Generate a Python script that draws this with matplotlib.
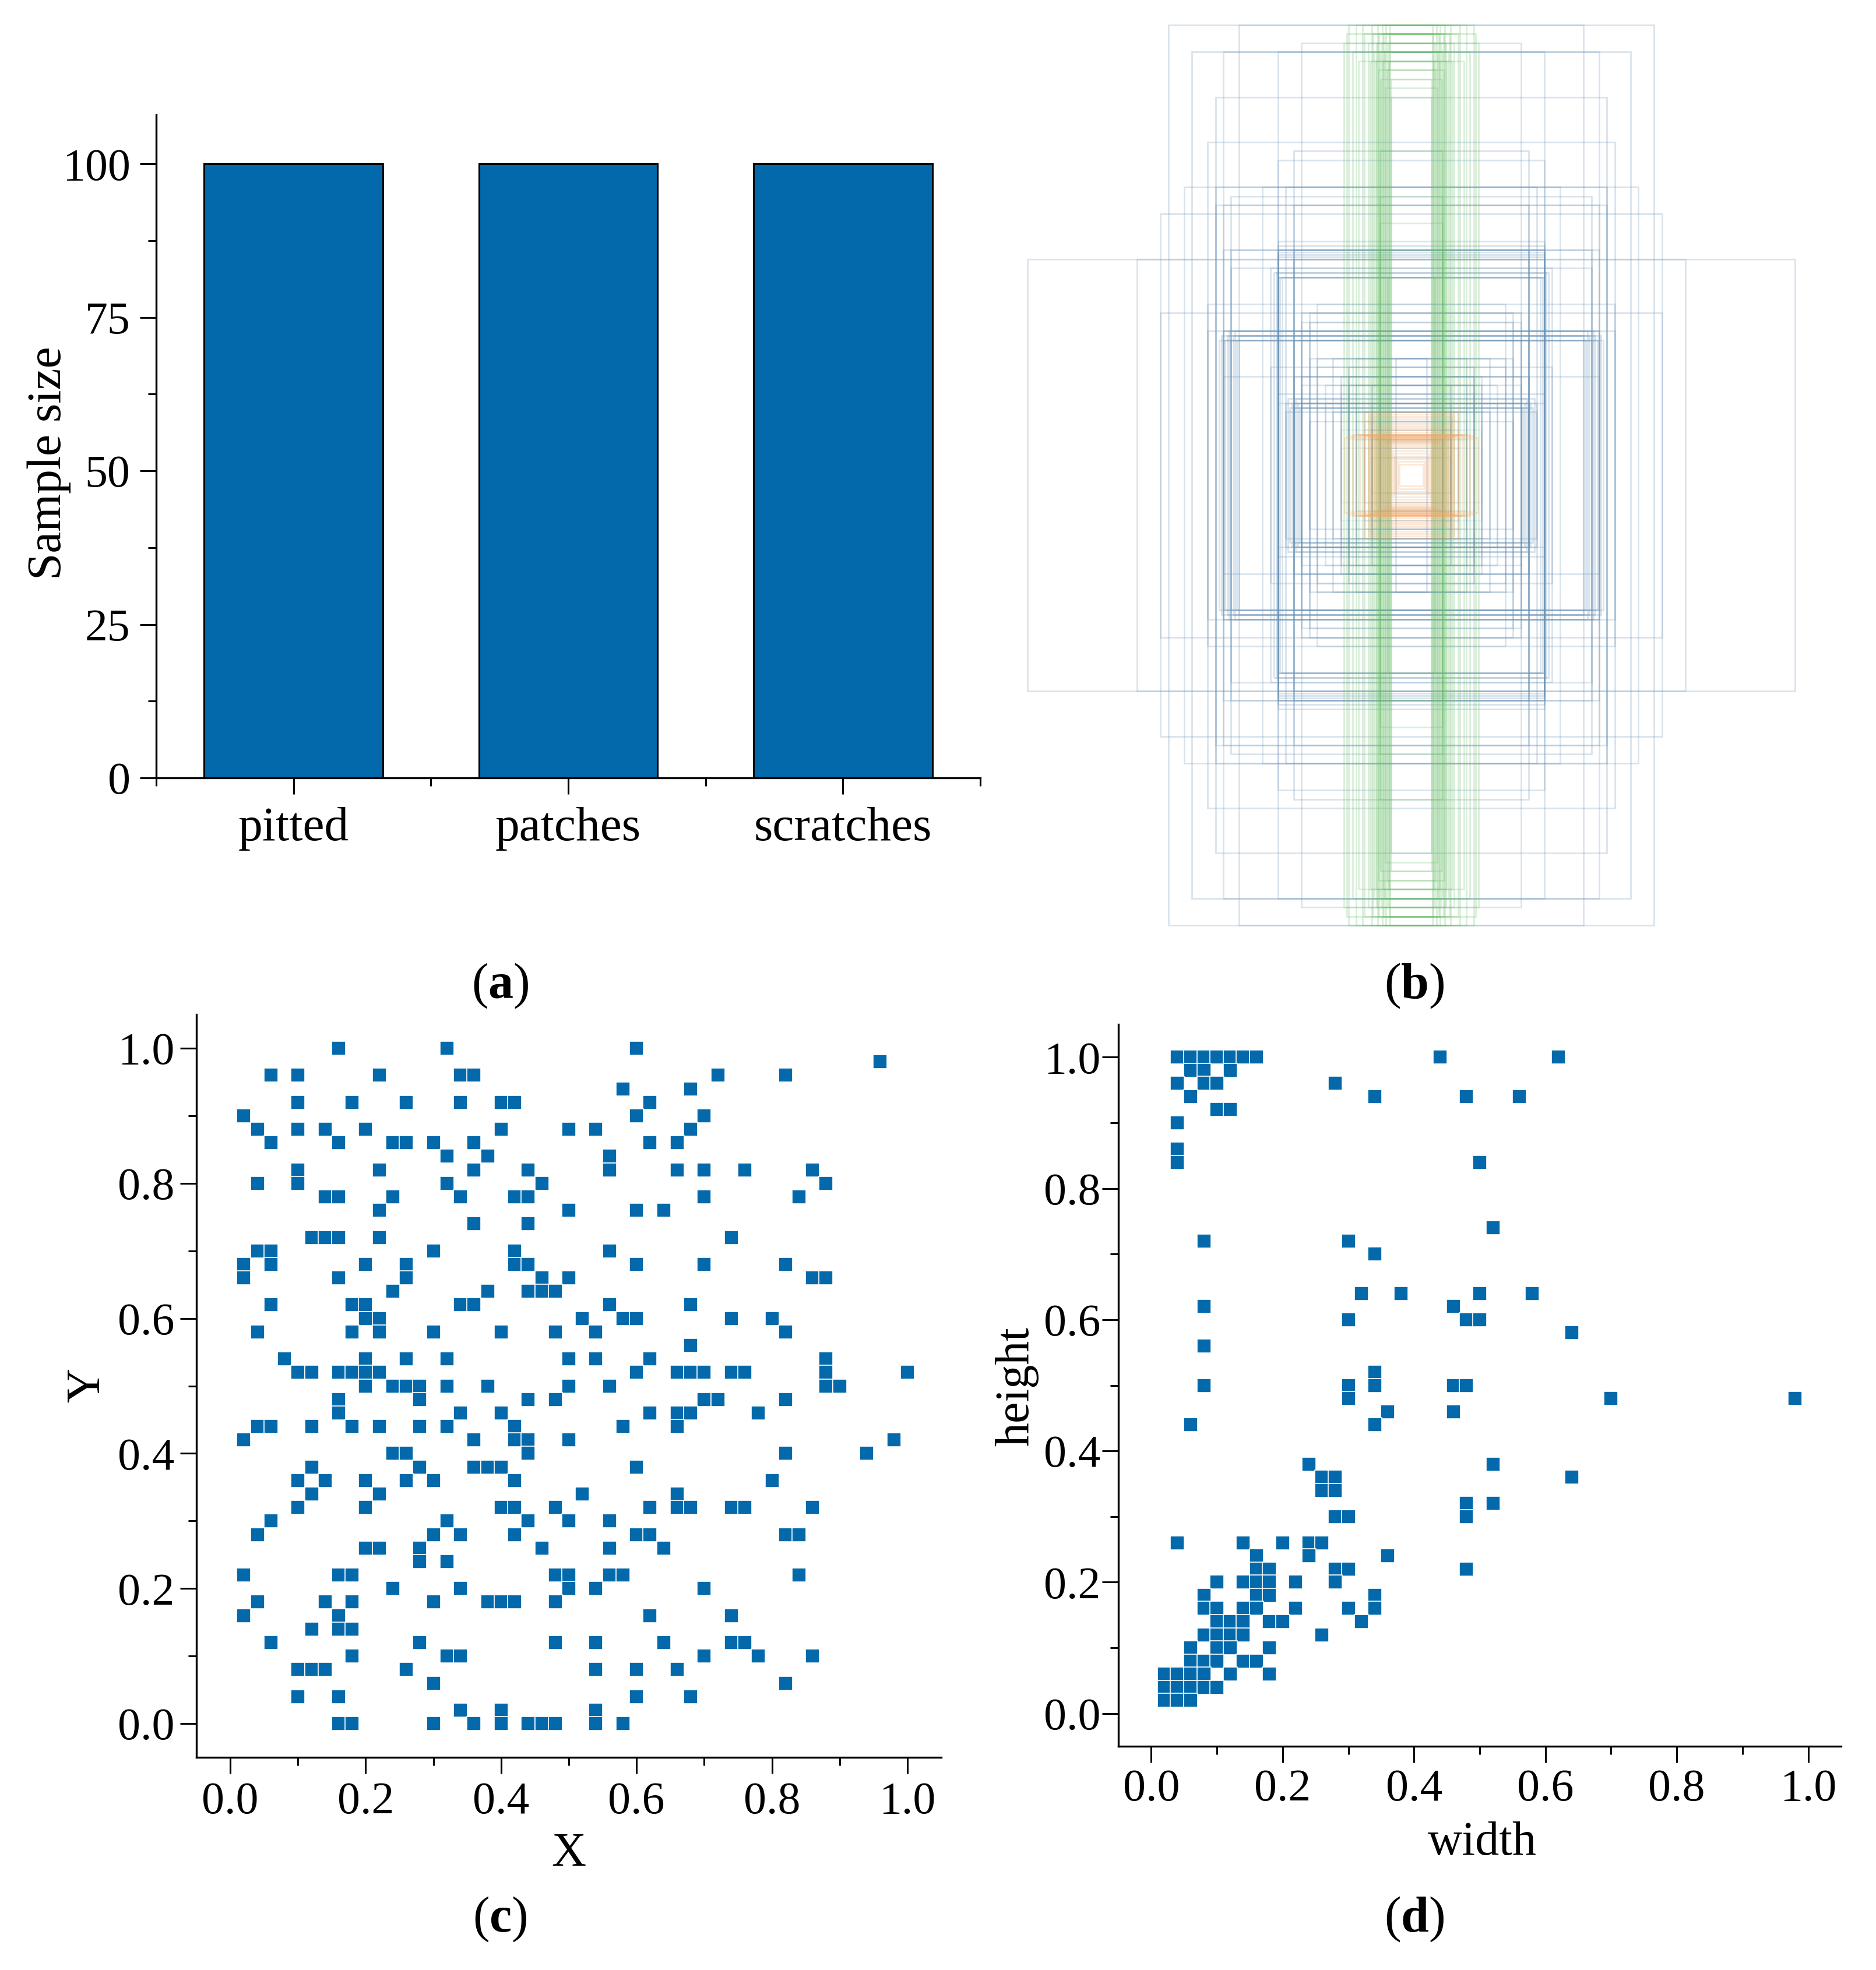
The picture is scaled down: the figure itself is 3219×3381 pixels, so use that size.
import numpy as np
import matplotlib
matplotlib.use("Agg")
import matplotlib.pyplot as plt
from matplotlib.patches import Rectangle
from matplotlib.ticker import MultipleLocator, FixedLocator

plt.rcParams['font.family'] = ['Liberation Serif', 'DejaVu Serif']
plt.rcParams['mathtext.fontset'] = 'custom'
plt.rcParams['mathtext.rm'] = 'Liberation Serif'
plt.rcParams['mathtext.bf'] = 'Liberation Serif:bold'

W, H = 3219, 3381
BLUE = '#0369aa'
FS = 56
LABEL_FS = 59

# panel a
categories = ['pitted', 'patches', 'scratches']
sample_size = [100, 100, 100]

# panel c, one row of x values per y level
c_levels = [1.0, .98, .96, .94, .92, .90, .88, .86, .84, .82, .80, .78, .76, .74, .72, .70, .68, .66, .64, .62,
            .60, .58, .56, .54, .52, .50, .48, .46, .44, .42, .40, .38, .36, .34, .32, .30, .28, .26, .24, .22,
            .20, .18, .16, .14, .12, .10, .08, .06, .04, .02, 0.0]
c_rows = [
    [.16, .32, .60],
    [.96],
    [.06, .10, .22, .34, .36, .72, .82],
    [.58, .68],
    [.10, .18, .26, .34, .40, .42, .62],
    [.02, .60, .70],
    [.04, .10, .14, .20, .40, .50, .54, .68],
    [.06, .16, .24, .26, .30, .36, .62, .66],
    [.32, .38, .56],
    [.10, .22, .36, .44, .56, .66, .70, .76, .86],
    [.04, .10, .32, .46, .88],
    [.14, .16, .24, .34, .42, .44, .70, .84],
    [.22, .50, .60, .64],
    [.36, .44],
    [.12, .14, .16, .22, .74],
    [.04, .06, .30, .42, .56],
    [.02, .06, .20, .26, .42, .44, .60, .70, .82],
    [.02, .16, .26, .46, .50, .86, .88],
    [.24, .38, .44, .46, .48],
    [.06, .18, .20, .34, .36, .56, .68],
    [.20, .22, .52, .58, .60, .74, .80],
    [.04, .18, .22, .30, .40, .48, .54, .82],
    [.68],
    [.08, .20, .26, .32, .50, .54, .62, .88],
    [.10, .12, .16, .18, .20, .22, .60, .66, .68, .70, .74, .76, .88, 1.0],
    [.20, .24, .26, .28, .32, .38, .50, .56, .88, .90],
    [.16, .28, .44, .48, .70, .72, .82],
    [.16, .34, .40, .62, .66, .68, .78],
    [.04, .06, .12, .18, .22, .28, .32, .42, .58, .66],
    [.02, .36, .42, .44, .50, .98],
    [.24, .26, .44, .82, .94],
    [.12, .28, .36, .38, .40, .60],
    [.10, .14, .20, .26, .30, .42, .80],
    [.12, .22, .52, .66],
    [.10, .20, .40, .42, .48, .62, .66, .68, .74, .76, .86],
    [.06, .32, .44, .50, .56],
    [.04, .30, .34, .42, .60, .62, .82, .84],
    [.20, .22, .28, .46, .56, .64],
    [.28, .32],
    [.02, .16, .18, .48, .50, .56, .58, .84],
    [.24, .34, .50, .54, .70],
    [.04, .14, .18, .30, .38, .40, .42, .48],
    [.02, .16, .62, .74],
    [.12, .16, .18],
    [.06, .28, .48, .54, .64, .74, .76],
    [.18, .32, .34, .70, .78, .86],
    [.10, .12, .14, .26, .54, .60, .66],
    [.30, .82],
    [.10, .16, .60, .68],
    [.34, .40, .54],
    [.16, .18, .30, .36, .40, .44, .46, .48, .54, .58],
]

# panel d, one row of widths per height level
d_levels = [1.0, .98, .96, .94, .92, .90, .86, .84, .74, .72, .70, .64, .62, .60, .58, .56, .52, .50, .48, .46,
            .44, .38, .36, .34, .32, .30, .26, .24, .22, .20, .18, .16, .14, .12, .10, .08, .06, .04, .02]
d_rows = [
    [.04, .06, .08, .10, .12, .14, .16, .44, .62],
    [.06, .08, .12],
    [.04, .08, .10, .28],
    [.06, .34, .48, .56],
    [.10, .12],
    [.04],
    [.04],
    [.04, .50],
    [.52],
    [.08, .30],
    [.34],
    [.32, .38, .50, .58],
    [.08, .46],
    [.30, .48, .50],
    [.64],
    [.08],
    [.34],
    [.08, .30, .34, .46, .48],
    [.30, .70, .98],
    [.36, .46],
    [.06, .34],
    [.24, .52],
    [.26, .28, .64],
    [.26, .28],
    [.48, .52],
    [.28, .30, .48],
    [.04, .14, .20, .24, .26],
    [.16, .24, .36],
    [.16, .18, .28, .30, .48],
    [.10, .14, .16, .18, .22, .28],
    [.08, .16, .18, .34],
    [.08, .10, .14, .16, .22, .30, .34],
    [.10, .12, .14, .18, .20, .32],
    [.08, .10, .12, .14, .26],
    [.06, .10, .12, .18],
    [.06, .08, .10, .14, .16],
    [.02, .04, .06, .08, .12, .18],
    [.02, .04, .06, .08, .10],
    [.02, .04, .06],
]

# panel b, boxes that the binned panel d grid does not show
b_blue_w = [.44, .445, .45, .455, .46, .465, .47, .475, .48, .485, .49,
            .28, .285, .29, .295, .30, .305, .31, .315, .32,
            .33, .335, .34, .345, .35,
            .34, .34, .34, .34, .34, .34]
b_blue_h = [.31, .30, .32, .31, .30, .32, .31, .30, .32, .31, .30,
            .16, .15, .16, .17, .15, .16, .15, .17, .16,
            .44, .44, .44, .45, .45,
            .48, .485, .49, .495, .50, .51]
b_green_w = [.052, .052, .054, .056, .058, .06, .062, .064, .066, .068, .07, .072, .074, .076, .078, .08, .082,
             .084, .086, .088, .09, .08, .08, .08, .08, .06,
             .094, .098, .10, .105, .11, .12, .125, .135, .14, .15, .16, .165, .172]
b_green_h = [.88, .84, 1.0, .98, .92, .96, .90, 1.0, .86, .94, .98, .92, 1.0, .96, .88, .94, .98,
             .90, 1.0, .96, .92, .72, .62, .56, .50, .44,
             .94, .98, 1.0, .92, .96, .98, 1.0, .92, 1.0, .94, 1.0, .98, .96]
b_orange_w = [.03, .034, .038, .042, .046, .05, .054, .058, .062, .066,
              .07, .075, .08, .085, .09, .095, .10, .11, .12, .13, .14, .15, .16, .17,
              .055, .06, .065, .07, .075, .08, .085, .09, .095, .10, .105, .11, .12]
b_orange_h = [.024, .03, .036, .042, .048, .054, .06, .066, .07, .074,
              .07, .074, .076, .078, .08, .082, .084, .086, .088, .09, .09, .09, .088, .084,
              .08, .085, .09, .095, .10, .105, .11, .115, .12, .125, .13, .135, .14]


def flatten(levels, rows):
    x = [v for row in rows for v in row]
    y = np.repeat(levels, [len(row) for row in rows])
    return x, y


def axes_px(fig, left, top, right, bottom):
    return fig.add_axes([left / W, 1 - bottom / H, (right - left) / W, (bottom - top) / H])


def style_axes(ax):
    for side in ['top', 'right']:
        ax.spines[side].set_visible(False)
    for side in ['left', 'bottom']:
        ax.spines[side].set_linewidth(2.4)
    ax.tick_params(which='major', length=20, width=2.2, labelsize=FS, pad=12)
    ax.tick_params(which='minor', length=10, width=2.2)


def scatter_panel(ax, x, y):
    ax.scatter(x, y, marker='s', s=320, color=BLUE, edgecolor='white', linewidth=1.2, clip_on=False)
    ax.set_xlim(-0.05, 1.05)
    ax.set_ylim(-0.05, 1.05)
    ax.xaxis.set_major_locator(MultipleLocator(0.2))
    ax.yaxis.set_major_locator(MultipleLocator(0.2))
    ax.xaxis.set_minor_locator(MultipleLocator(0.1))
    ax.yaxis.set_minor_locator(MultipleLocator(0.1))
    ax.xaxis.set_major_formatter('{x:.1f}')
    ax.yaxis.set_major_formatter('{x:.1f}')
    style_axes(ax)


fig = plt.figure(figsize=(W / 100, H / 100), dpi=100)

# (a) sample counts
ax_a = axes_px(fig, 268, 197, 1682, 1335)
ax_a.bar(range(1, 4), sample_size, width=0.65, color=BLUE, edgecolor='black', linewidth=2.2)
ax_a.set_xlim(0.5, 3.5)
ax_a.set_ylim(0, 108)
ax_a.set_xticks([1, 2, 3], categories)
ax_a.xaxis.set_minor_locator(FixedLocator([0.5, 1.5, 2.5, 3.5]))
ax_a.yaxis.set_major_locator(MultipleLocator(25))
ax_a.yaxis.set_minor_locator(MultipleLocator(12.5))
style_axes(ax_a)
ax_a.tick_params(axis='x', which='major', pad=16, labelsize=LABEL_FS + 1)
ax_a.set_ylabel('Sample size', fontsize=LABEL_FS + 1)
ax_a.yaxis.set_label_coords((122 - 268) / (1682 - 268), (1335 - 795) / (1335 - 197))

# (b) anchor boxes, all centred on one point
d_w, d_h = flatten(d_levels, d_rows)
ax_b = axes_px(fig, 1763, 43, 3080, 1588)
ax_b.set_xlim(-0.49, 0.49)
ax_b.set_ylim(-0.5, 0.5)
ax_b.axis('off')


def draw_boxes(ws, hs, color, alpha):
    for w, h in zip(ws, hs):
        ax_b.add_patch(Rectangle((-w / 2, -h / 2), w, h, fill=False, edgecolor=color, alpha=alpha,
                                 linewidth=2.0, clip_on=False))


blue_w = [w for w, h in zip(d_w, d_h) if w > 0.18 or 0.18 < h <= 0.3] + b_blue_w
blue_h = [h for w, h in zip(d_w, d_h) if w > 0.18 or 0.18 < h <= 0.3] + b_blue_h
draw_boxes(blue_w, blue_h, '#6a93b5', 0.25)
draw_boxes(b_green_w, b_green_h, '#62bb62', 0.24)
small_w = [w for w, h in zip(d_w, d_h) if 0.06 < w <= 0.18 and h <= 0.18]
small_h = [h for w, h in zip(d_w, d_h) if 0.06 < w <= 0.18 and h <= 0.18]
draw_boxes(small_w, small_h, '#6a93b5', 0.12)
draw_boxes(b_orange_w, b_orange_h, '#f4a460', 0.25)

# (c) box centres
c_x, c_y = flatten(c_levels, c_rows)
ax_c = axes_px(fig, 337, 1741, 1615, 3016)
scatter_panel(ax_c, c_x, c_y)
ax_c.tick_params(axis='y', which='major', pad=7)
ax_c.tick_params(axis='x', which='major', pad=10)
ax_c.set_xlabel('X', fontsize=LABEL_FS)
ax_c.set_ylabel('Y', fontsize=LABEL_FS)
ax_c.xaxis.set_label_coords((976 - 337) / (1615 - 337), (3016 - 3145) / (3016 - 1741))
ax_c.yaxis.set_label_coords((188 - 337) / (1615 - 337), (3016 - 2377) / (3016 - 1741))

# (d) box sizes
ax_d = axes_px(fig, 1919, 1758, 3159, 2997)
scatter_panel(ax_d, d_w, d_h)
ax_d.tick_params(axis='y', which='major', pad=2)
ax_d.tick_params(axis='x', which='major', pad=8)
ax_d.set_xlabel('width', fontsize=LABEL_FS)
ax_d.set_ylabel('height', fontsize=LABEL_FS)
ax_d.xaxis.set_label_coords((2543 - 1919) / (3159 - 1919), (2997 - 3125) / (2997 - 1758))
ax_d.yaxis.set_label_coords((1782 - 1919) / (3159 - 1919), (2997 - 2380) / (2997 - 1758))

# sub-figure letters
for label, px, py in [('a', 858, 1692), ('b', 2427, 1692), ('c', 858, 3294), ('d', 2427, 3294)]:
    fig.text(px / W, 1 - py / H, r'($\mathbf{%s}$)' % label, fontsize=62, ha='center', va='center')

fig.savefig('out.png', dpi=100)
